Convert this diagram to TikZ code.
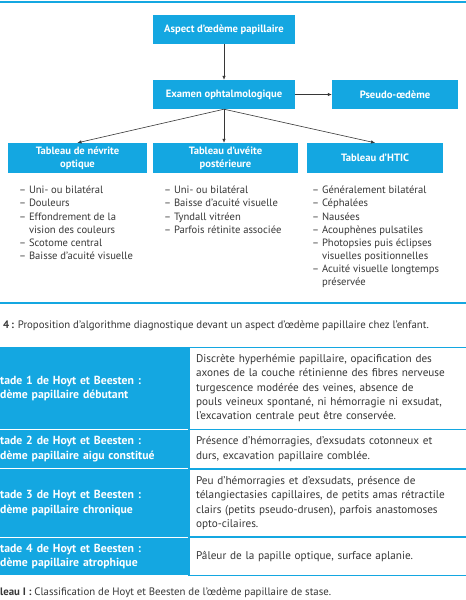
\documentclass[tikz,border=0pt]{standalone}
\usepackage{fontspec}
\setmainfont{PT Sans}
\usetikzlibrary{arrows.meta, positioning}
\definecolor{vtcyan}{RGB}{20,167,225}
\definecolor{vttext}{RGB}{55,55,55}

\begin{document}
\begin{tikzpicture}[x=1pt, y=-1pt,
  box/.style={fill=vtcyan, text=white, font=\fontsize{10.6}{12.5}\selectfont\bfseries, minimum height=29pt, inner sep=0pt, align=center},
  liste/.style={anchor=north west, inner sep=0pt, text=vttext, align=left, font=\fontsize{10.6}{13.1}\selectfont},
  fleche/.style={-{Latex[length=4pt,width=3.5pt]}, draw=vttext, line width=0.6pt},
  stade/.style={fill=vtcyan, text=white, minimum width=188pt, inner sep=0pt, text width=188pt, align=left, font=\fontsize{11.7}{14.3}\selectfont\bfseries},
  descr/.style={draw=vtcyan, line width=1.4pt, minimum width=290pt, inner xsep=7pt, inner ysep=0pt, text width=276pt, align=left, text=vttext, font=\fontsize{11.2}{14.3}\selectfont},
  legende/.style={anchor=base west, inner sep=0pt, text=vttext, font=\fontsize{10.8}{12}\selectfont},
  regle/.style={draw=vtcyan, line width=1.5pt}
]
\clip (0,0) rectangle (466,600);
\fill[white] (0,0) rectangle (466,600);
\draw[regle] (0,2) -- (466,2);
\draw[regle] (0,303) -- (466,303);

% algorithme
\node[box, minimum width=142pt] (aspect) at (224,29.5) {Aspect d’œdème papillaire};
\node[box, minimum width=142pt] (exam) at (224,94.5) {Examen ophtalmologique};
\node[box, minimum width=126pt] (pseudo) at (395,94.5) {Pseudo-œdème};
\node[box, minimum width=139pt, minimum height=30pt] (nevrite) at (77.5,158) {Tableau de névrite\\optique};
\node[box, minimum width=145pt, minimum height=30pt] (uveite) at (225.5,158) {Tableau d’uvéite\\postérieure};
\node[box, minimum width=136pt, minimum height=30pt] (htic) at (375,158) {Tableau d’HTIC};
\draw[fleche] (aspect) -- (exam);
\draw[fleche] (exam) -- (pseudo);
\draw[fleche] (exam.south) -- (nevrite.north);
\draw[fleche] (exam.south) -- (exam.south |- uveite.north);
\draw[fleche] (exam.south) -- (htic.north);

\node[liste] (lnevrite) at (19,186) {– Uni- ou bilatéral\\– Douleurs\\– Effondrement de la\\\phantom{– }vision des couleurs\\– Scotome central\\– Baisse d’acuité visuelle};
\node[liste] (luveite) at (164,186) {– Uni- ou bilatéral\\– Baisse d’acuité visuelle\\– Tyndall vitréen\\– Parfois rétinite associée};
\node[liste] (lhtic) at (312,186) {– Généralement bilatéral\\– Céphalées\\– Nausées\\– Acouphènes pulsatiles\\– Photopsies puis éclipses\\\phantom{– }visuelles positionnelles\\– Acuité visuelle longtemps\\\phantom{– }préservée};

\node[legende] (figcap) at (3,328) {\textbf{4\,:} Proposition d’algorithme diagnostique devant un aspect d’œdème papillaire chez l’enfant.};

% classification
\node[stade, anchor=north west, minimum height=82pt] (s1) at (0,347) {tade 1 de Hoyt et Beesten :\\dème papillaire débutant};
\node[stade, below=0pt of s1, minimum height=39pt] (s2) {tade 2 de Hoyt et Beesten :\\dème papillaire aigu constitué};
\node[stade, below=0pt of s2, minimum height=68pt] (s3) {tade 3 de Hoyt et Beesten :\\dème papillaire chronique};
\node[stade, below=0pt of s3, minimum height=38pt] (s4) {tade 4 de Hoyt et Beesten :\\dème papillaire atrophique};
\foreach \i in {1,2,3} {
  \draw[white, line width=1.2pt] (s\i.south west) -- (s\i.south east);
}
\node[descr, right=0pt of s1, minimum height=82pt] (d1) {Discrète hyperhémie papillaire, opacification des\\axones de la couche rétinienne des fibres nerveuse\\turgescence modérée des veines, absence de\\pouls veineux spontané, ni hémorragie ni exsudat,\\l’excavation centrale peut être conservée.};
\node[descr, right=0pt of s2, minimum height=39pt] (d2) {Présence d’hémorragies, d’exsudats cotonneux et\\durs, excavation papillaire comblée.};
\node[descr, right=0pt of s3, minimum height=68pt] (d3) {Peu d’hémorragies et d’exsudats, présence de\\télangiectasies capillaires, de petits amas rétractile\\clairs (petits pseudo-drusen), parfois anastomoses\\opto-cilaires.};
\node[descr, right=0pt of s4, minimum height=38pt] (d4) {Pâleur de la papille optique, surface aplanie.};

\node[legende] (tabcap) at (0,595) {\textbf{leau I :} Classification de Hoyt et Beesten de l’œdème papillaire de stase.};
\end{tikzpicture}
\end{document}
